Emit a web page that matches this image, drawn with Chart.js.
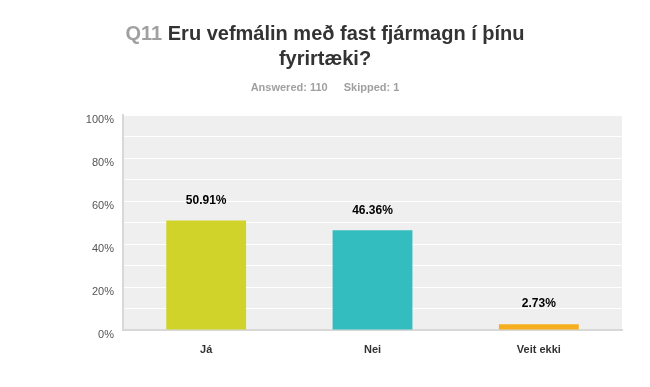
<!DOCTYPE html>
<html lang="is">
<head>
  <meta charset="UTF-8" />
  <title>Q11 Eru vefmálin með fast fjármagn í þínu fyrirtæki?</title>
  <script src="https://cdn.jsdelivr.net/npm/chart.js"></script>
  <style>
    * { box-sizing: border-box; }
    html, body { margin: 0; padding: 0; background: #ffffff; }
    .wrap { position: relative; width: 650px; height: 387px; }
    canvas { display: block; }
  </style>
</head>
<body>
  <div class="wrap">
    <canvas id="q11Chart" width="650" height="387"></canvas>
  </div>

<script>
const questionNo = "Q11";
const titleLines = ["Eru vefmálin með fast fjármagn í þínu", "fyrirtæki?"];
const answeredText = "Answered: 110";
const skippedText = "Skipped: 1";

const categories = ["Já", "Nei", "Veit ekki"];
const percents = [50.91, 46.36, 2.73];
const barColors = ["#d0d42a", "#34bdbf", "#f7ae1e"];

const plotBackground = {
  id: "plotBackground",
  beforeDraw(chart) {
    const { ctx, chartArea: a } = chart;
    ctx.save();
    ctx.fillStyle = "#efefef";
    ctx.fillRect(a.left, a.top, a.right - a.left, a.bottom - a.top);
    ctx.restore();
  }
};

// title + answered/skipped line, drawn above the plot
const headerText = {
  id: "headerText",
  afterDraw(chart) {
    const ctx = chart.ctx;
    const cx = 325;
    ctx.save();
    ctx.textBaseline = "alphabetic";
    ctx.font = "bold 20px 'Liberation Sans', Arial, sans-serif";

    const q = questionNo + " ";
    const qW = ctx.measureText(q).width;
    const l1W = ctx.measureText(titleLines[0]).width;
    let x = cx - (qW + l1W) / 2;
    ctx.textAlign = "left";
    ctx.fillStyle = "#a0a0a0";
    ctx.fillText(q, x, 40);
    ctx.fillStyle = "#333333";
    ctx.fillText(titleLines[0], x + qW, 40);
    ctx.textAlign = "center";
    ctx.fillText(titleLines[1], cx, 65);

    ctx.font = "bold 11px 'Liberation Sans', Arial, sans-serif";
    ctx.fillStyle = "#a0a0a0";
    const gap = 16;
    const aW = ctx.measureText(answeredText).width;
    const sW = ctx.measureText(skippedText).width;
    x = cx - (aW + gap + sW) / 2;
    ctx.textAlign = "left";
    ctx.fillText(answeredText, x, 91);
    ctx.fillText(skippedText, x + aW + gap, 91);
    ctx.restore();
  }
};

const valueLabels = {
  id: "valueLabels",
  afterDatasetsDraw(chart) {
    const ctx = chart.ctx;
    const meta = chart.getDatasetMeta(0);
    ctx.save();
    ctx.font = "bold 12px 'Liberation Sans', Arial, sans-serif";
    ctx.fillStyle = "#000000";
    ctx.textAlign = "center";
    ctx.textBaseline = "middle";
    meta.data.forEach((bar, i) => {
      ctx.fillText(percents[i].toFixed(2) + "%", bar.x, bar.y - 20);
    });
    ctx.restore();
  }
};

new Chart(document.getElementById("q11Chart"), {
  type: "bar",
  data: {
    labels: categories,
    datasets: [{
      data: percents,
      backgroundColor: barColors,
      borderWidth: 0,
      barPercentage: 0.48,
      categoryPercentage: 1
    }]
  },
  options: {
    responsive: false,
    animation: false,
    layout: { padding: { top: 115, right: 28, left: 0, bottom: 0 } },
    plugins: {
      legend: { display: false },
      tooltip: { enabled: false }
    },
    scales: {
      x: {
        afterFit(scale) { scale.height = 57; },
        grid: { display: false },
        border: { color: "#d8d8d8", width: 2 },
        ticks: {
          color: "#333333",
          font: { family: "'Liberation Sans', Arial, sans-serif", size: 11, weight: "bold" },
          padding: 5
        }
      },
      y: {
        min: 0,
        max: 100,
        afterFit(scale) { scale.width = 123; },
        grid: { color: "#ffffff", lineWidth: 1, drawTicks: false },
        border: { color: "#d8d8d8", width: 2 },
        ticks: {
          stepSize: 10,
          padding: 9,
          labelOffset: 5,
          color: "#555555",
          font: { family: "'Liberation Sans', Arial, sans-serif", size: 11 },
          callback: v => (v % 20 === 0 ? v + "%" : "")
        }
      }
    }
  },
  plugins: [plotBackground, valueLabels, headerText]
});
</script>
</body>
</html>
